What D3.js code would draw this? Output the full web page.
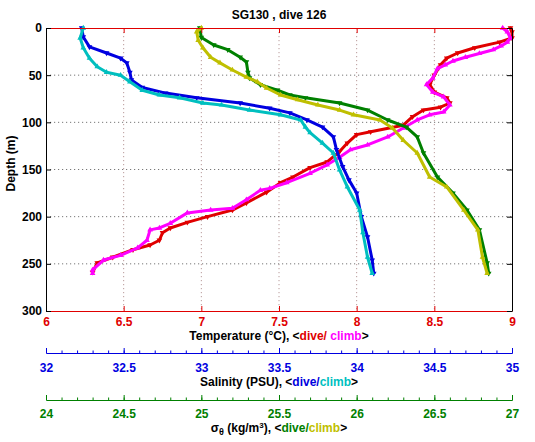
<!DOCTYPE html>
<html><head><meta charset="utf-8">
<script src="https://cdn.jsdelivr.net/npm/d3@7"></script>
<style>
body{margin:0;background:#fff;}
svg{display:block;font-family:"Liberation Sans",Arial,Helvetica,sans-serif;font-weight:bold;}
</style></head>
<body><svg id="c" width="535" height="442"></svg>
<script>
// ---- data ----
const tDiveDepth = [0,4,10.6,15,21,26.5,32,39,50,60,68,74,79.5,84,87,94,103,110,113,122,131,142,148,158,164,174,185.5,193,200,206,212,217,225,230,235,243,249,259];
const tDive      = [8.99,9.0,9.0,8.92,8.76,8.65,8.58,8.54,8.50,8.47,8.50,8.58,8.60,8.54,8.43,8.36,8.30,8.09,8.00,7.94,7.89,7.81,7.70,7.59,7.51,7.42,7.29,7.20,7.04,6.91,6.80,6.75,6.73,6.67,6.56,6.43,6.33,6.30];
const tClimbDepth = [0,4,10.6,15,19,23,27,31,35,39,43,53,60,68,73,81.6,89,92,97.5,106,115.5,124,129,137,145,154,164,170,172,182,191,193,196,207,212,214,225,233,241,246,256.5,260];
const tClimb      = [8.94,8.97,8.99,8.97,8.93,8.88,8.79,8.70,8.62,8.57,8.52,8.49,8.45,8.49,8.56,8.60,8.56,8.47,8.39,8.30,8.20,8.07,7.96,7.89,7.81,7.70,7.55,7.44,7.38,7.29,7.20,7.06,6.91,6.80,6.73,6.67,6.65,6.59,6.48,6.37,6.30,6.30];
const sDiveDepth = [0,9.5,20,26.5,32,37,47,55,63,69,74,79.5,85,90,97.5,105,115.5,129,147,161,175,200,221.5,246,260];
const sDive      = [32.23,32.24,32.28,32.39,32.48,32.52,32.54,32.55,32.62,32.77,32.97,33.25,33.44,33.57,33.68,33.78,33.85,33.87,33.91,33.95,34.00,34.03,34.07,34.10,34.11];
const sClimbDepth = [0,10.6,21,32,41,47,50,57,66,71,74,79.5,81.6,87,92,97.5,105,111,122,132.5,150.5,168.5,193,217,243,260];
const sClimb      = [32.24,32.22,32.24,32.28,32.33,32.39,32.48,32.54,32.62,32.73,32.86,33.01,33.13,33.31,33.51,33.64,33.67,33.70,33.78,33.85,33.89,33.94,34.02,34.04,34.07,34.10];
const gDiveDepth = [0,10,18,23,31,36,47,53,60,66,71,74,79.5,87,97.5,105,115.5,132.5,158,175,193,214,249,260];
const gDive      = [24.99,25.00,25.08,25.17,25.25,25.29,25.30,25.31,25.38,25.49,25.57,25.67,25.89,26.07,26.20,26.32,26.39,26.43,26.52,26.62,26.71,26.79,26.84,26.85];
const gClimbDepth = [0,4,13,21,31,37,44.5,52,57,63.6,71,76,81.6,87,92,97.5,106,119,132.5,158,168.5,193,214,243,260];
const gClimb      = [25.00,24.97,24.98,25.01,25.06,25.12,25.20,25.29,25.36,25.42,25.51,25.62,25.75,25.89,25.98,26.15,26.23,26.30,26.39,26.47,26.58,26.69,26.78,26.81,26.84];

const depthTicks = [0,50,100,150,200,250,300];
const tempTicks = [6,6.5,7,7.5,8,8.5,9];
const salTicks = [32,32.5,33,33.5,34,34.5,35];
const sigTicks = [24,24.5,25,25.5,26,26.5,27];

// ---- layout ----
const L = 46, R = 512, T = 28, B = 311;
const RED = "#e00000", MAG = "#ff00ff", BLUE = "#0000e0", CYAN = "#00bfbf", GREEN = "#008000", OLIVE = "#bfbf00";

const x = d3.scaleLinear().domain([6,9]).range([L,R]);
const xs = d3.scaleLinear().domain([32,35]).range([L,R]);
const xg = d3.scaleLinear().domain([24,27]).range([L,R]);
const y = d3.scaleLinear().domain([0,300]).range([T,B]);

const svg = d3.select("#c");

// grid
svg.append("g").selectAll("line").data(tempTicks.slice(1,-1)).join("line")
  .attr("x1", d=>x(d)).attr("x2", d=>x(d)).attr("y1", T).attr("y2", B)
  .attr("stroke", "#b89a9a").attr("stroke-width", 1).attr("stroke-dasharray", "1.2,2.8");
svg.append("g").selectAll("line").data(depthTicks.slice(1,-1)).join("line")
  .attr("x1", L).attr("x2", R).attr("y1", d=>y(d)).attr("y2", d=>y(d))
  .attr("stroke", "#777").attr("stroke-width", 1).attr("stroke-dasharray", "1.2,2.8");

// series
function series(depths, vals, scale, color, dive) {
  const pts = depths.map((d,i)=>[scale(vals[i]), y(d)]);
  const g = svg.append("g");
  g.append("path").attr("d", d3.line()(pts)).attr("fill","none")
    .attr("stroke", color).attr("stroke-width", 3).attr("stroke-linejoin","round").attr("stroke-linecap","round");
  const sym = d3.symbol().type(d3.symbolTriangle).size(14);
  g.selectAll("path.m").data(pts).join("path").attr("class","m")
    .attr("d", sym).attr("fill", color)
    .attr("transform", p=>`translate(${p[0]},${p[1]}) rotate(${dive?180:0})`);
}
series(tDiveDepth, tDive, x, RED, true);
series(tClimbDepth, tClimb, x, MAG, false);
series(sDiveDepth, sDive, xs, BLUE, true);
series(sClimbDepth, sClimb, xs, CYAN, false);
series(gDiveDepth, gDive, xg, GREEN, true);
series(gClimbDepth, gClimb, xg, OLIVE, false);

// axes
function style(g, color, fs) {
  g.selectAll("path.domain").attr("stroke", color).attr("stroke-width", 1);
  g.selectAll(".tick line").attr("stroke", color);
  g.selectAll(".tick text").attr("fill", color).attr("font-size", fs).attr("font-weight","bold")
    .attr("font-family", '"Liberation Sans",Arial,sans-serif');
}
const fmt = d3.format("");
// temperature bottom
const gtb = svg.append("g").attr("transform", `translate(0,${B})`)
  .call(d3.axisBottom(x).tickValues(tempTicks).tickFormat(fmt).tickSizeInner(-5).tickSizeOuter(0).tickPadding(6));
style(gtb, RED, 12);
// top
const gtt = svg.append("g").attr("transform", `translate(0,${T})`)
  .call(d3.axisTop(x).tickValues(tempTicks).tickFormat("").tickSizeInner(-5).tickSizeOuter(0));
style(gtt, RED, 12);
// left
const gl = svg.append("g").attr("transform", `translate(${L},0)`)
  .call(d3.axisLeft(y).tickValues(depthTicks).tickFormat(fmt).tickSizeInner(-5).tickSizeOuter(0).tickPadding(4));
style(gl, "#000", 12);
// right
const gr = svg.append("g").attr("transform", `translate(${R},0)`)
  .call(d3.axisRight(y).tickValues(depthTicks).tickFormat("").tickSizeInner(-5).tickSizeOuter(0));
style(gr, "#000", 12);

// salinity axis
const SY = 353, GY = 400;
const minorS = d3.range(320, 351).map(v=>v/10);
const gsm = svg.append("g").attr("transform", `translate(0,${SY})`)
  .call(d3.axisBottom(xs).tickValues(minorS).tickFormat("").tickSizeInner(-2.5).tickSizeOuter(0));
style(gsm, BLUE, 12);
const gs = svg.append("g").attr("transform", `translate(0,${SY})`)
  .call(d3.axisBottom(xs).tickValues(salTicks).tickFormat(fmt).tickSizeInner(-5).tickSizeOuter(0).tickPadding(10));
style(gs, BLUE, 12);
// sigma axis
const minorG = d3.range(240, 271).map(v=>v/10);
const ggm = svg.append("g").attr("transform", `translate(0,${GY})`)
  .call(d3.axisBottom(xg).tickValues(minorG).tickFormat("").tickSizeInner(-2.5).tickSizeOuter(0));
style(ggm, GREEN, 12);
const gg = svg.append("g").attr("transform", `translate(0,${GY})`)
  .call(d3.axisBottom(xg).tickValues(sigTicks).tickFormat(fmt).tickSizeInner(-5).tickSizeOuter(0).tickPadding(9));
style(gg, GREEN, 12);

// titles
const cx = (L+R)/2;
svg.append("text").attr("x", cx).attr("y", 18.5).attr("text-anchor","middle").attr("font-size",12).text("SG130 , dive 126");
svg.append("text").attr("transform", `translate(15,${(T+B)/2 - 6}) rotate(-90)`).attr("text-anchor","middle").attr("font-size",12).text("Depth (m)");

function label(yy, parts) {
  const t = svg.append("text").attr("x", cx).attr("y", yy).attr("text-anchor","middle").attr("font-size",12);
  parts.forEach(p=>{
    const s = t.append("tspan").text(p[0]).attr("fill", p[1] || "#000");
    if (p[2]) s.attr("font-size", p[2]);
    if (p[3]) s.attr("dy", p[3]);
  });
}
label(339.5, [["Temperature (°C), <"],["dive/",RED],[" climb",MAG],[">"]]);
label(386, [["Salinity (PSU), <"],["dive/",BLUE],["climb",CYAN],[">"]]);
label(431.5, [["σ"],["θ","#000",9,3],[" (kg/m","#000",null,-3],["3","#000",8,-4],["), <","#000",null,4],["dive/",GREEN],["climb",OLIVE],[">"]]);
</script></body></html>
